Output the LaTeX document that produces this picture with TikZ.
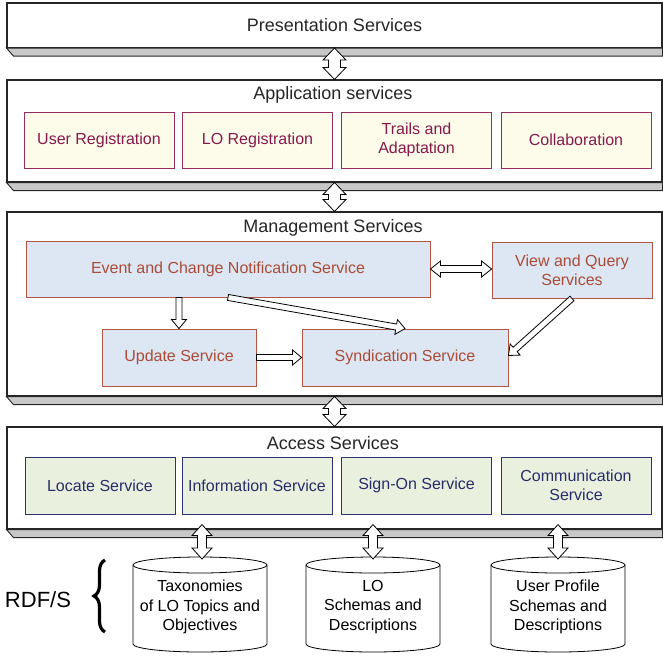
\documentclass[tikz,border=0pt]{standalone}
\usepackage{fontspec}
\setmainfont{Liberation Sans}
\usetikzlibrary{calc,decorations.pathreplacing}

\definecolor{appline}{RGB}{150,45,95}
\definecolor{apptext}{RGB}{135,25,75}
\definecolor{appfill}{RGB}{253,251,234}
\definecolor{mgmtline}{RGB}{180,85,65}
\definecolor{mgmttext}{RGB}{170,75,55}
\definecolor{mgmtfill}{RGB}{221,231,243}
\definecolor{accline}{RGB}{45,50,115}
\definecolor{acctext}{RGB}{40,45,105}
\definecolor{accfill}{RGB}{233,241,222}
\definecolor{bandgray}{RGB}{200,200,200}

\tikzset{
  layer/.style={draw=black!85, line width=1.1pt, fill=white, minimum width=655pt, inner sep=0pt},
  band/.style={draw=black!85, line width=0.9pt, fill=bandgray},
  layertitle/.style={font=\fontsize{18}{21}\selectfont, text=black!85},
  inbox/.style={draw, line width=0.9pt, align=center, inner sep=0pt, font=\fontsize{16}{19}\selectfont},
  appbox/.style={inbox, draw=appline, fill=appfill, text=apptext, minimum width=150pt, minimum height=56pt},
  mgmtbox/.style={inbox, draw=mgmtline, fill=mgmtfill, text=mgmttext},
  accbox/.style={inbox, draw=accline, fill=accfill, text=acctext, minimum width=150pt, minimum height=57pt},
  dbtext/.style={align=center, inner sep=0pt, font=\fontsize{16}{19.5}\selectfont},
  hollowarrow/.style n args={3}{draw=black, fill=white, line width=0.8pt, to path={
    let \p1=(\tikztostart), \p2=(\tikztotarget), \p3=($(\p2)!#3!(\p1)$) in
    ($(\p1)!#1!90:(\p2)$) -- ($(\p3)!#1!90:(\p2)$) -- ($(\p3)!#2!90:(\p2)$) -- (\p2)
    -- ($(\p3)!#2!-90:(\p2)$) -- ($(\p3)!#1!-90:(\p2)$) -- ($(\p1)!#1!-90:(\p2)$) -- cycle}},
  dblhollow/.style n args={3}{draw=black, fill=white, line width=0.8pt, to path={
    let \p1=(\tikztostart), \p2=(\tikztotarget), \p3=($(\p2)!#3!(\p1)$), \p4=($(\p1)!#3!(\p2)$) in
    (\p1) -- ($(\p4)!#2!90:(\p2)$) -- ($(\p4)!#1!90:(\p2)$) -- ($(\p3)!#1!90:(\p2)$) -- ($(\p3)!#2!90:(\p2)$) -- (\p2)
    -- ($(\p3)!#2!-90:(\p2)$) -- ($(\p3)!#1!-90:(\p2)$) -- ($(\p4)!#1!-90:(\p2)$) -- ($(\p4)!#2!-90:(\p2)$) -- cycle}},
}

\begin{document}
\begin{tikzpicture}[x=1pt, y=-1pt]
  \useasboundingbox (0,0) rectangle (663,656);

  \node[layer, minimum height=44.5pt, font=\fontsize{18}{21}\selectfont, text=black!85] (pres) at (334.5,25.25) {Presentation Services};
  \node[layer, minimum height=102pt] (app) at (334.5,131) {};
  \node[layer, minimum height=184pt] (mgmt) at (334.5,304) {};
  \node[layer, minimum height=102pt] (access) at (334.5,478) {};

  \foreach \l in {pres,app,mgmt,access}
    \draw[band] (\l.south west) -- ([shift={(7pt,-8pt)}]\l.south west) -- ([yshift=-8pt]\l.south east) -- (\l.south east) -- cycle;

  \node[layertitle] (apptitle) at (333,95) {Application services};
  \node[layertitle] (mgmttitle) at (333,228) {Management Services};
  \node[layertitle] (acctitle) at (333,443) {Access Services};

  \node[appbox] (userreg) at (99,140) {User Registration};
  \node[appbox] (loreg) at (257.5,140) {LO Registration};
  \node[appbox] (trails) at (416.5,140) {Trails and\\Adaptation};
  \node[appbox] (collab) at (576,140) {Collaboration};

  \node[mgmtbox, minimum width=404pt, minimum height=56pt] (event) at (228,269) {Event and Change Notification Service};
  \node[mgmtbox, minimum width=160pt, minimum height=56pt] (view) at (572,270) {View and Query\\Services};
  \node[mgmtbox, minimum width=154pt, minimum height=57pt] (update) at (179,357.5) {Update Service};
  \node[mgmtbox, minimum width=206pt, minimum height=57pt] (synd) at (405,357.5) {Syndication Service};

  \node[accbox] (locate) at (100,485.5) {Locate Service};
  \node[accbox] (info) at (257,485.5) {Information Service};
  \node[accbox] (signon) at (416.5,485.5) {Sign-On Service};
  \node[accbox] (comm) at (576,485.5) {Communication\\Service};

  \foreach \cx in {200,373,558}{
    \draw[line width=0.8pt, fill=white] (\cx-67,565) -- (\cx-67,644)
      arc[start angle=180, end angle=360, x radius=67pt, y radius=8pt] -- (\cx+67,565)
      arc[start angle=0, end angle=180, x radius=67pt, y radius=8pt] -- cycle;
    \draw[line width=0.8pt] (\cx-67,565) arc[start angle=180, end angle=360, x radius=67pt, y radius=8pt];
  }
  \node[dbtext] (tax) at (200,607) {Taxonomies\\of LO Topics and\\Objectives};
  \node[dbtext] (lodesc) at (373,607) {LO\\Schemas and\\Descriptions};
  \node[dbtext] (userprof) at (558,607) {User Profile\\Schemas and\\Descriptions};
  \coordinate (taxtop) at (202,559);
  \coordinate (lotop) at (373,559);
  \coordinate (usertop) at (558,559);

  \node[font=\fontsize{22}{26}\selectfont] (rdfs) at (38,600) {RDF/S};
  \draw[decorate, decoration={brace, amplitude=11pt}, line width=3.2pt] (105,632) -- (105,560);

  \draw[dblhollow={6pt}{11.5pt}{12pt}] (pres.south) to (app.north);
  \draw[dblhollow={6pt}{11.5pt}{12pt}] (app.south) to (mgmt.north);
  \draw[dblhollow={6pt}{11.5pt}{12pt}] (mgmt.south) to (access.north);

  \draw[dblhollow={3.5pt}{8pt}{10pt}] (event.east) to (event.east -| view.west);
  \draw[hollowarrow={3pt}{7.5pt}{9pt}] (update.north |- event.south) to (update.north);
  \draw[hollowarrow={3pt}{7.5pt}{9pt}] (event.south) to (synd.north);
  \draw[hollowarrow={3pt}{7.5pt}{9pt}] (update.east) to (synd.west);
  \draw[hollowarrow={3pt}{7.5pt}{9pt}] (view.south) to ([yshift=2pt]synd.east);

  \draw[dblhollow={4.5pt}{10pt}{11pt}] ($(access.south -| taxtop)+(0,-5)$) to (taxtop);
  \draw[dblhollow={4.5pt}{10pt}{11pt}] ($(access.south -| lotop)+(0,-5)$) to (lotop);
  \draw[dblhollow={4.5pt}{10pt}{11pt}] ($(access.south -| usertop)+(0,-5)$) to (usertop);
\end{tikzpicture}
\end{document}
